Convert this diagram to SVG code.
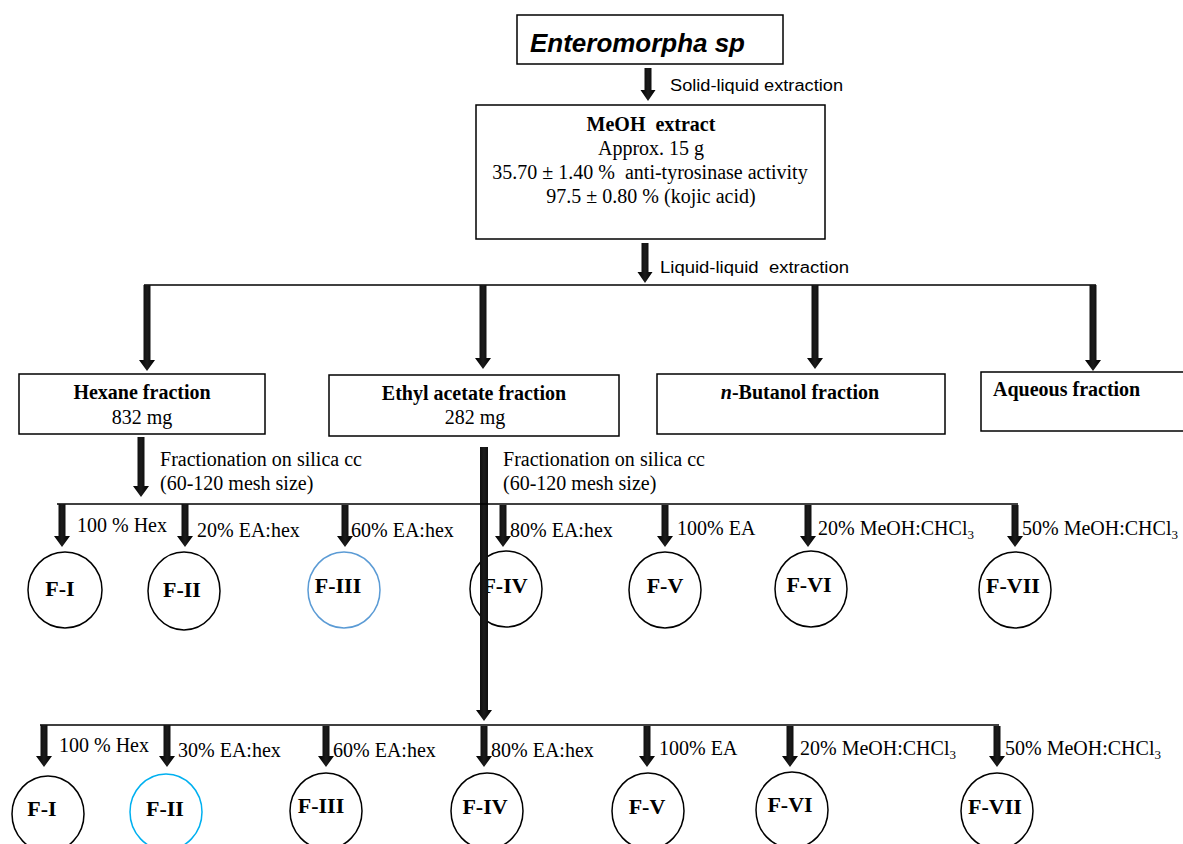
<svg xmlns="http://www.w3.org/2000/svg" width="1183" height="844" viewBox="0 0 1183 844">
<style>
.box{fill:#fff;stroke:#000;stroke-width:1.5}
.circ{fill:#fff;stroke:#000;stroke-width:1.5}
.t{font-family:"Liberation Serif","Times New Roman",serif;font-size:20px;fill:#000}
.f{font-family:"Liberation Serif","Times New Roman",serif;font-size:22px;font-weight:bold;fill:#000;text-anchor:middle}
.b{font-weight:bold}
.s{font-family:"Liberation Sans",Arial,sans-serif;font-size:16px;fill:#000}
.ln{stroke:#000;stroke-width:1.5;fill:none}
.ar{fill:url(#sh)}
.c{text-anchor:middle}
</style>
<defs>
<linearGradient id="sh" x1="0" y1="0" x2="1" y2="0">
<stop offset="0" stop-color="#000"/>
<stop offset="0.5" stop-color="#1c1c1c"/>
<stop offset="1" stop-color="#000"/>
</linearGradient>
</defs>

<g id="node-enteromorpha">
<rect class="box" x="517" y="15" width="266" height="49"/>
<text x="530" y="52" font-family="'Liberation Sans',Arial,sans-serif" font-size="25" font-weight="bold" font-style="italic" textLength="215" lengthAdjust="spacingAndGlyphs">Enteromorpha sp</text>
</g>

<g id="node-meoh">
<rect class="box" x="476" y="105" width="349" height="134"/>
<text class="t b c" x="651" y="131" xml:space="preserve">MeOH  extract</text>
<text class="t c" x="651" y="155">Approx. 15 g</text>
<text class="t c" x="650" y="179" xml:space="preserve">35.70 ± 1.40 %  anti-tyrosinase activity</text>
<text class="t c" x="651" y="203">97.5 ± 0.80 % (kojic acid)</text>
</g>

<g id="node-hexane">
<rect class="box" x="19" y="374" width="246" height="60"/>
<text class="t b c" x="142" y="399">Hexane fraction</text>
<text class="t c" x="142" y="424">832 mg</text>
</g>

<g id="node-ethylacetate">
<rect class="box" x="329" y="375" width="290" height="61"/>
<text class="t b c" x="474" y="400">Ethyl acetate fraction</text>
<text class="t c" x="475" y="424">282 mg</text>
</g>

<g id="node-butanol">
<rect class="box" x="657" y="374" width="288" height="60"/>
<text class="t b c" x="800" y="399"><tspan font-style="italic">n</tspan>-Butanol fraction</text>
</g>

<g id="node-aqueous">
<rect class="box" x="981" y="372" width="210" height="59"/>
<text class="t b" x="993" y="396">Aqueous fraction</text>
</g>

<g id="row1-F-I"><ellipse class="circ" cx="65" cy="590" rx="37" ry="38"/><text class="f" x="60" y="596">F-I</text></g>
<g id="row1-F-II"><ellipse class="circ" cx="184" cy="591" rx="36" ry="39"/><text class="f" x="182" y="597">F-II</text></g>
<g id="row1-F-III"><ellipse class="circ" cx="344" cy="590" rx="36" ry="38" style="stroke:#5b9bd5"/><text class="f" x="338" y="593">F-III</text></g>
<g id="row1-F-IV"><ellipse class="circ" cx="506" cy="589" rx="36" ry="38"/><text class="f" x="505" y="593">F-IV</text></g>
<g id="row1-F-V"><ellipse class="circ" cx="665" cy="590" rx="36" ry="38"/><text class="f" x="665" y="593">F-V</text></g>
<g id="row1-F-VI"><ellipse class="circ" cx="811" cy="589" rx="36" ry="38"/><text class="f" x="809" y="592">F-VI</text></g>
<g id="row1-F-VII"><ellipse class="circ" cx="1015" cy="590" rx="36" ry="38"/><text class="f" x="1013" y="593">F-VII</text></g>

<g id="row2-F-I"><ellipse class="circ" cx="48" cy="814" rx="36" ry="38"/><text class="f" x="42" y="816">F-I</text></g>
<g id="row2-F-II"><ellipse class="circ" cx="166" cy="812" rx="36" ry="38" style="stroke:#00b0f0"/><text class="f" x="165" y="816">F-II</text></g>
<g id="row2-F-III"><ellipse class="circ" cx="326" cy="811" rx="36" ry="38"/><text class="f" x="321" y="813">F-III</text></g>
<g id="row2-F-IV"><ellipse class="circ" cx="487" cy="811" rx="36" ry="38"/><text class="f" x="485" y="814">F-IV</text></g>
<g id="row2-F-V"><ellipse class="circ" cx="648" cy="811" rx="36" ry="38"/><text class="f" x="647" y="814">F-V</text></g>
<g id="row2-F-VI"><ellipse class="circ" cx="792" cy="810" rx="36" ry="38"/><text class="f" x="790" y="812">F-VI</text></g>
<g id="row2-F-VII"><ellipse class="circ" cx="997" cy="811" rx="36" ry="38"/><text class="f" x="995" y="814">F-VII</text></g>

<g id="connectors">
<polygon class="ar" points="644.5,68 651.5,68 651.5,90 655.5,90 648,101 640.5,90 644.5,90"/>
<text class="s" x="670" y="91" textLength="173" lengthAdjust="spacingAndGlyphs">Solid-liquid extraction</text>

<polygon class="ar" points="641.5,243 648.5,243 648.5,272 652.5,272 645,283 637.5,272 641.5,272"/>
<text class="s" x="660" y="273" textLength="189" lengthAdjust="spacingAndGlyphs" xml:space="preserve">Liquid-liquid  extraction</text>

<line class="ln" x1="144" y1="285" x2="1096" y2="285"/>
<polygon class="ar" points="143.5,285 150.5,285 150.5,360 155,360 147,371 139,360 143.5,360"/>
<polygon class="ar" points="479.5,285 486.5,285 486.5,358 491,358 483,369 475,358 479.5,358"/>
<polygon class="ar" points="811.5,285 818.5,285 818.5,358 823,358 815,369 807,358 811.5,358"/>
<polygon class="ar" points="1089.5,285 1096.5,285 1096.5,360 1101,360 1093,371 1085,360 1089.5,360"/>

<polygon class="ar" points="137.5,437 144.5,437 144.5,486 149,486 141,497 133,486 137.5,486"/>
<text class="t" x="160" y="466" textLength="202" lengthAdjust="spacing">Fractionation on silica cc</text>
<text class="t" x="160" y="490">(60-120 mesh size)</text>

<polygon class="ar" points="480,447 488,447 488,710 492,710 484,721 476,710 480,710"/>
<text class="t" x="503" y="466" textLength="202" lengthAdjust="spacing">Fractionation on silica cc</text>
<text class="t" x="503" y="490">(60-120 mesh size)</text>

<line class="ln" x1="57" y1="504" x2="1018" y2="504"/>
<polygon class="ar" points="58.5,504 65.5,504 65.5,536 70,536 62,547 54,536 58.5,536"/>
<polygon class="ar" points="181.5,504 188.5,504 188.5,536 193,536 185,547 177,536 181.5,536"/>
<polygon class="ar" points="341.5,505 348.5,505 348.5,536 353,536 345,547 337,536 341.5,536"/>
<polygon class="ar" points="499.5,505 506.5,505 506.5,536 511,536 503,547 495,536 499.5,536"/>
<polygon class="ar" points="661.5,505 668.5,505 668.5,536 673,536 665,547 657,536 661.5,536"/>
<polygon class="ar" points="804.5,505 811.5,505 811.5,536 816,536 808,547 800,536 804.5,536"/>
<polygon class="ar" points="1011.5,505 1018.5,505 1018.5,536 1023,536 1015,547 1007,536 1011.5,536"/>
<text class="t" x="77" y="532">100 % Hex</text>
<text class="t" x="197" y="537">20% EA:hex</text>
<text class="t" x="351" y="537">60% EA:hex</text>
<text class="t" x="510" y="537">80% EA:hex</text>
<text class="t" x="677" y="535">100% EA</text>
<text class="t" x="818" y="535">20% MeOH:CHCl<tspan font-size="13" dy="4">3</tspan></text>
<text class="t" x="1022" y="535">50% MeOH:CHCl<tspan font-size="13" dy="4">3</tspan></text>

<line class="ln" x1="40" y1="725" x2="999" y2="725"/>
<polygon class="ar" points="40.5,725 47.5,725 47.5,756 52,756 44,767 36,756 40.5,756"/>
<polygon class="ar" points="163.5,725 170.5,725 170.5,756 175,756 167,767 159,756 163.5,756"/>
<polygon class="ar" points="322.5,726 329.5,726 329.5,756 334,756 326,767 318,756 322.5,756"/>
<polygon class="ar" points="480.5,726 487.5,726 487.5,756 492,756 484,767 476,756 480.5,756"/>
<polygon class="ar" points="643.5,726 650.5,726 650.5,756 655,756 647,767 639,756 643.5,756"/>
<polygon class="ar" points="786.5,726 793.5,726 793.5,756 798,756 790,767 782,756 786.5,756"/>
<polygon class="ar" points="993.5,726 1000.5,726 1000.5,756 1005,756 997,767 989,756 993.5,756"/>
<text class="t" x="59" y="752">100 % Hex</text>
<text class="t" x="178" y="757">30% EA:hex</text>
<text class="t" x="333" y="757">60% EA:hex</text>
<text class="t" x="491" y="757">80% EA:hex</text>
<text class="t" x="659" y="755">100% EA</text>
<text class="t" x="800" y="755">20% MeOH:CHCl<tspan font-size="13" dy="4">3</tspan></text>
<text class="t" x="1005" y="755">50% MeOH:CHCl<tspan font-size="13" dy="4">3</tspan></text>
</g>
</svg>
